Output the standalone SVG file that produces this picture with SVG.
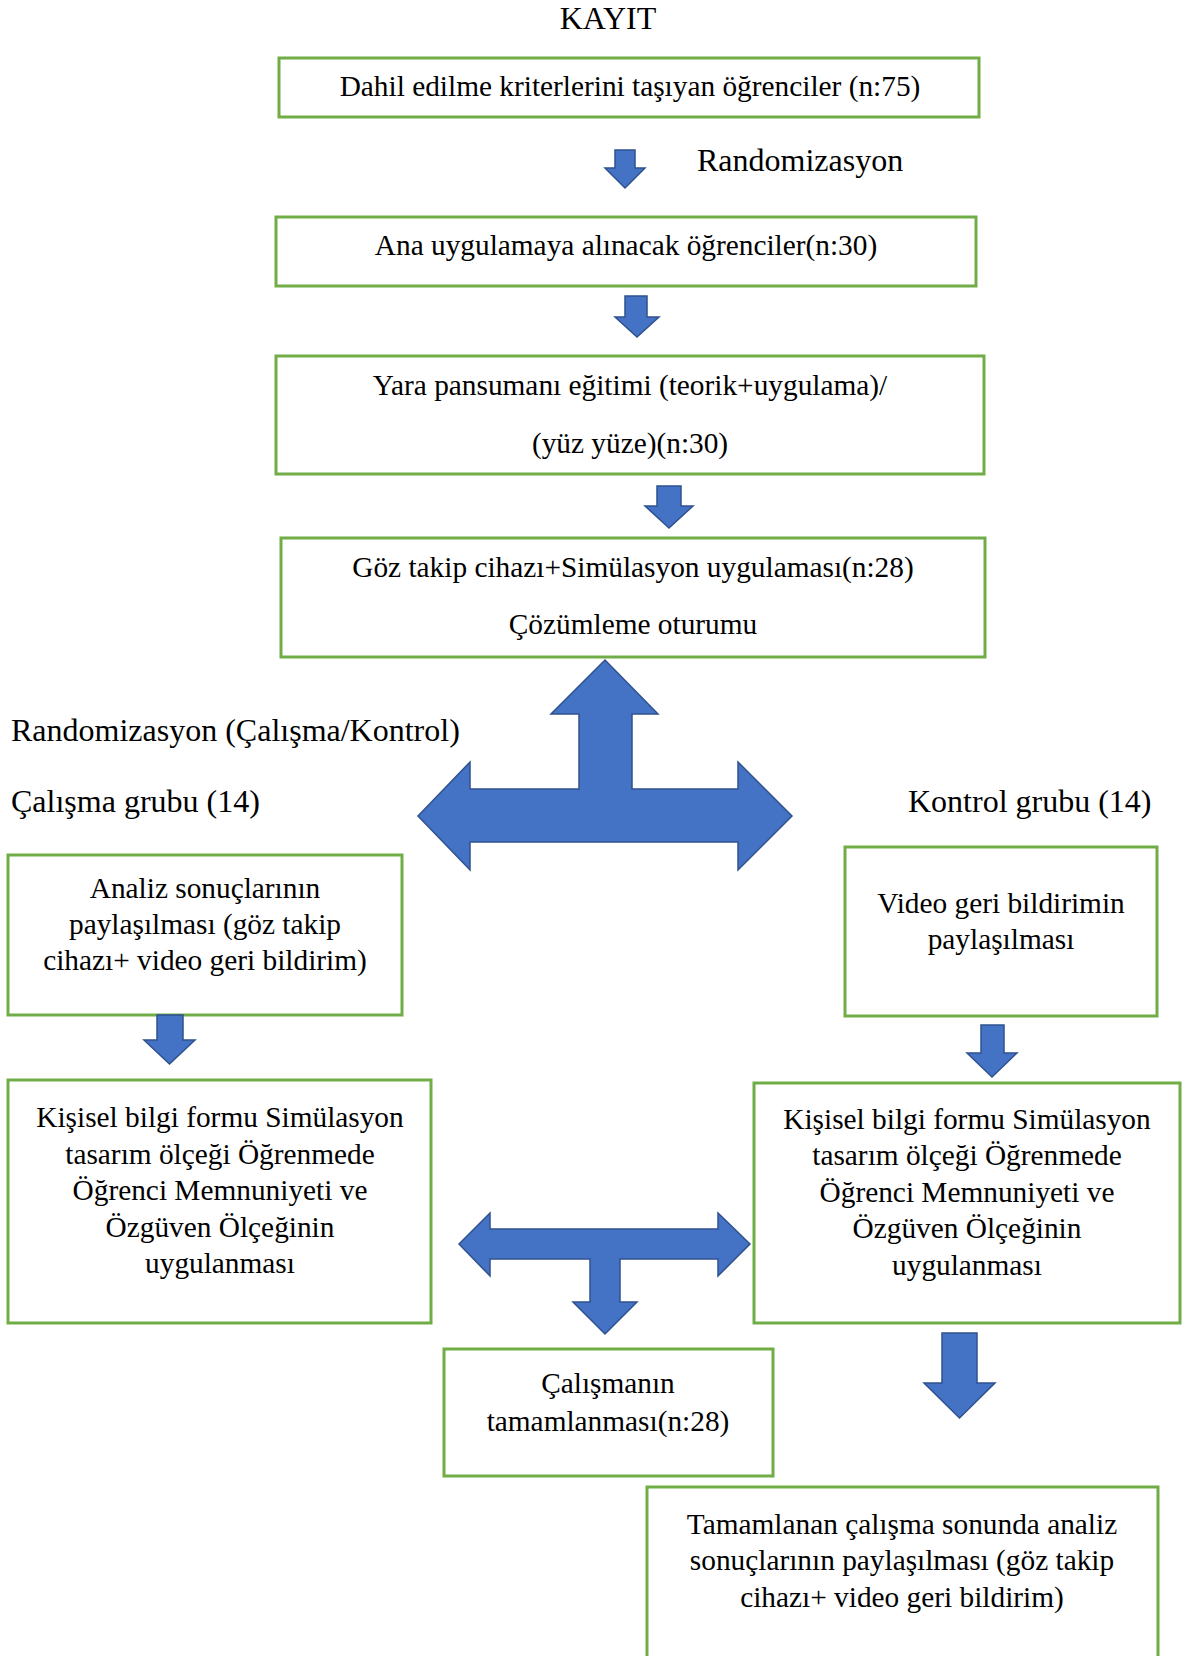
<svg xmlns="http://www.w3.org/2000/svg" width="1183" height="1656" viewBox="0 0 1183 1656">
<style>
.box{fill:#fff;stroke:#70AD47;stroke-width:3}
.arr{fill:#4472C4;stroke:#2F528F;stroke-width:1.5;stroke-linejoin:miter}
text{font-family:"Liberation Serif","Times New Roman",serif;fill:#000}
.t{font-size:29.33px;text-anchor:middle}
.l{font-size:32px}
</style>
<rect width="1183" height="1656" fill="#fff"/>
<text id="kayit" class="l" x="608" y="29" text-anchor="middle">KAYIT</text>
<text id="rand1" class="l" x="697" y="171">Randomizasyon</text>
<text id="rand2" class="l" x="11" y="741">Randomizasyon (Çalışma/Kontrol)</text>
<text id="calgrup" class="l" x="11" y="812">Çalışma grubu (14)</text>
<text id="kongrup" class="l" x="908" y="812">Kontrol grubu (14)</text>

<g id="n1"><rect class="box" x="279" y="58" width="700" height="59"/><text class="t" x="630" y="96">Dahil edilme kriterlerini taşıyan öğrenciler (n:75)</text></g>
<g id="n2"><rect class="box" x="276" y="217" width="700" height="69"/><text class="t" x="626" y="255">Ana uygulamaya alınacak öğrenciler(n:30)</text></g>
<g id="n3"><rect class="box" x="276" y="356" width="708" height="118"/><text class="t" x="630" y="395">Yara pansumanı eğitimi (teorik+uygulama)/</text><text class="t" x="630" y="453">(yüz yüze)(n:30)</text></g>
<g id="n4"><rect class="box" x="281" y="538" width="704" height="119"/><text class="t" x="633" y="577">Göz takip cihazı+Simülasyon uygulaması(n:28)</text><text class="t" x="633" y="634">Çözümleme oturumu</text></g>
<g id="n5"><rect class="box" x="8" y="855" width="394" height="160"/><text class="t" x="205" y="898">Analiz sonuçlarının</text><text class="t" x="205" y="934">paylaşılması (göz takip</text><text class="t" x="205" y="970">cihazı+ video geri bildirim)</text></g>
<g id="n6"><rect class="box" x="845" y="847" width="312" height="169"/><text class="t" x="1001" y="913">Video geri bildirimin</text><text class="t" x="1001" y="949">paylaşılması</text></g>
<g id="n7"><rect class="box" x="8" y="1080" width="423" height="243"/><text class="t" x="220" y="1127">Kişisel bilgi formu Simülasyon</text><text class="t" x="220" y="1164">tasarım ölçeği Öğrenmede</text><text class="t" x="220" y="1200">Öğrenci Memnuniyeti ve</text><text class="t" x="220" y="1237">Özgüven Ölçeğinin</text><text class="t" x="220" y="1273">uygulanması</text></g>
<g id="n8"><rect class="box" x="754" y="1083" width="426" height="240"/><text class="t" x="967" y="1129">Kişisel bilgi formu Simülasyon</text><text class="t" x="967" y="1165">tasarım ölçeği Öğrenmede</text><text class="t" x="967" y="1202">Öğrenci Memnuniyeti ve</text><text class="t" x="967" y="1238">Özgüven Ölçeğinin</text><text class="t" x="967" y="1275">uygulanması</text></g>
<g id="n9"><rect class="box" x="444" y="1349" width="329" height="127"/><text class="t" x="608" y="1393">Çalışmanın</text><text class="t" x="608" y="1431">tamamlanması(n:28)</text></g>
<g id="n10"><rect class="box" x="647" y="1487" width="511" height="200"/><text class="t" x="902" y="1534">Tamamlanan çalışma sonunda analiz</text><text class="t" x="902" y="1570">sonuçlarının paylaşılması (göz takip</text><text class="t" x="902" y="1607">cihazı+ video geri bildirim)</text></g>

<g id="connectors">
<polygon class="arr" points="615,150 635,150 635,168 645,168 625,188 605,168 615,168"/>
<polygon class="arr" points="625,296 647,296 647,317 659,317 637,337 615,317 625,317"/>
<polygon class="arr" points="657,486 681,486 681,506 693,506 669,528 645,506 657,506"/>
<polygon class="arr" points="605,660 658,714 632,714 632,789 738,789 738,762 792,816 738,870 738,842 470,842 470,870 418,816 470,762 470,789 579,789 579,714 551,714"/>
<polygon class="arr" points="157,1015 183,1015 183,1040 195,1040 169.5,1064 144,1040 157,1040"/>
<polygon class="arr" points="981,1025 1004,1025 1004,1053 1017,1053 992,1077 967,1053 981,1053"/>
<polygon class="arr" points="459,1244 490,1213 490,1229 718,1229 718,1213 750,1244 718,1276 718,1259 620,1259 620,1302 637,1302 605,1334 573,1302 590,1302 590,1259 490,1259 490,1276"/>
<polygon class="arr" points="942,1333 977,1333 977,1383 995,1383 959.5,1418 924,1383 942,1383"/>
</g>
</svg>
